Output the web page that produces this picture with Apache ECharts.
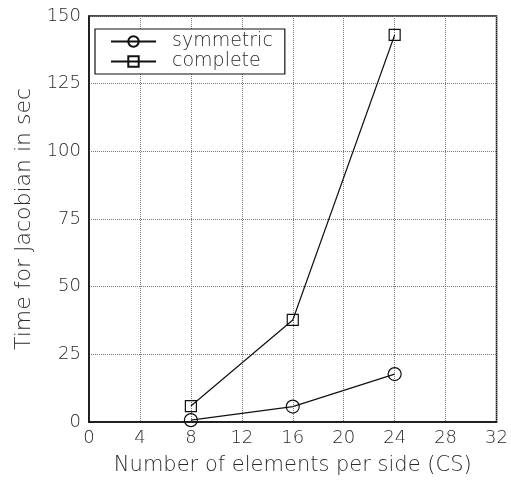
<!DOCTYPE html>
<html>
<head>
<meta charset="utf-8">
<script src="https://cdn.jsdelivr.net/npm/echarts@6/dist/echarts.min.js"></script>
<style>
  html, body { margin: 0; padding: 0; background: #fff; }
  #chart { width: 511px; height: 499px; }
</style>
</head>
<body>
<div id="chart"></div>
<script>
// data
const xValues = [8, 16, 24];
const symmetric = [0.7, 5.7, 17.7];
const complete = [5.9, 37.7, 143];
const seriesNames = ['symmetric', 'complete'];

const font = 'DejaVu Sans';
const textColor = '#2a2a2a';
const chart = echarts.init(document.getElementById('chart'));

const pairs = (ys) => xValues.map((x, i) => [x, ys[i]]);

chart.setOption({
  backgroundColor: '#fff',
  animation: false,
  grid: {
    left: 89,
    right: 13,
    top: 16,
    bottom: 77,
    show: true,
    borderColor: '#111',
    borderWidth: 1.5
  },
  legend: {
    data: seriesNames,
    orient: 'vertical',
    left: 95,
    top: 29,
    padding: [3, 12, 3, 15],
    itemGap: 1,
    itemWidth: 45,
    itemHeight: 13,
    borderColor: '#111',
    borderWidth: 1.2,
    backgroundColor: '#fff',
    textStyle: { fontFamily: font, fontWeight: 200, fontSize: 19, color: textColor, padding: [0, 0, 0, 11] }
  },
  xAxis: {
    type: 'value',
    min: 0,
    max: 32,
    interval: 4,
    name: 'Number of elements per side (CS)',
    nameLocation: 'middle',
    nameGap: 33,
    nameTextStyle: { fontFamily: font, fontWeight: 200, fontSize: 21, color: textColor },
    axisLine: { lineStyle: { color: '#111', width: 1.5 } },
    axisTick: { show: false },
    axisLabel: { fontFamily: font, fontWeight: 200, fontSize: 18, color: textColor, margin: 7 },
    splitLine: { show: true, lineStyle: { type: 'dotted', color: '#777', width: 1 } }
  },
  yAxis: {
    type: 'value',
    min: 0,
    max: 150,
    interval: 25,
    name: 'Time for Jacobian in sec',
    nameLocation: 'middle',
    nameGap: 53,
    nameTextStyle: { fontFamily: font, fontWeight: 200, fontSize: 22, color: textColor },
    axisLine: { show: true, lineStyle: { color: '#111', width: 1.5 } },
    axisTick: { show: false },
    axisLabel: { fontFamily: font, fontWeight: 200, fontSize: 18, color: textColor, margin: 8 },
    splitLine: { show: true, lineStyle: { type: 'dotted', color: '#777', width: 1 } }
  },
  series: [
    {
      name: seriesNames[0],
      type: 'line',
      data: pairs(symmetric),
      symbol: 'circle',
      symbolSize: 13,
      lineStyle: { color: '#111', width: 1.2 },
      itemStyle: { color: 'rgba(0,0,0,0)', borderColor: '#111', borderWidth: 1.2 }
    },
    {
      name: seriesNames[1],
      type: 'line',
      data: pairs(complete),
      symbol: 'rect',
      symbolSize: 11,
      lineStyle: { color: '#111', width: 1.2 },
      itemStyle: { color: 'rgba(0,0,0,0)', borderColor: '#111', borderWidth: 1.2 }
    }
  ]
});
</script>
</body>
</html>
